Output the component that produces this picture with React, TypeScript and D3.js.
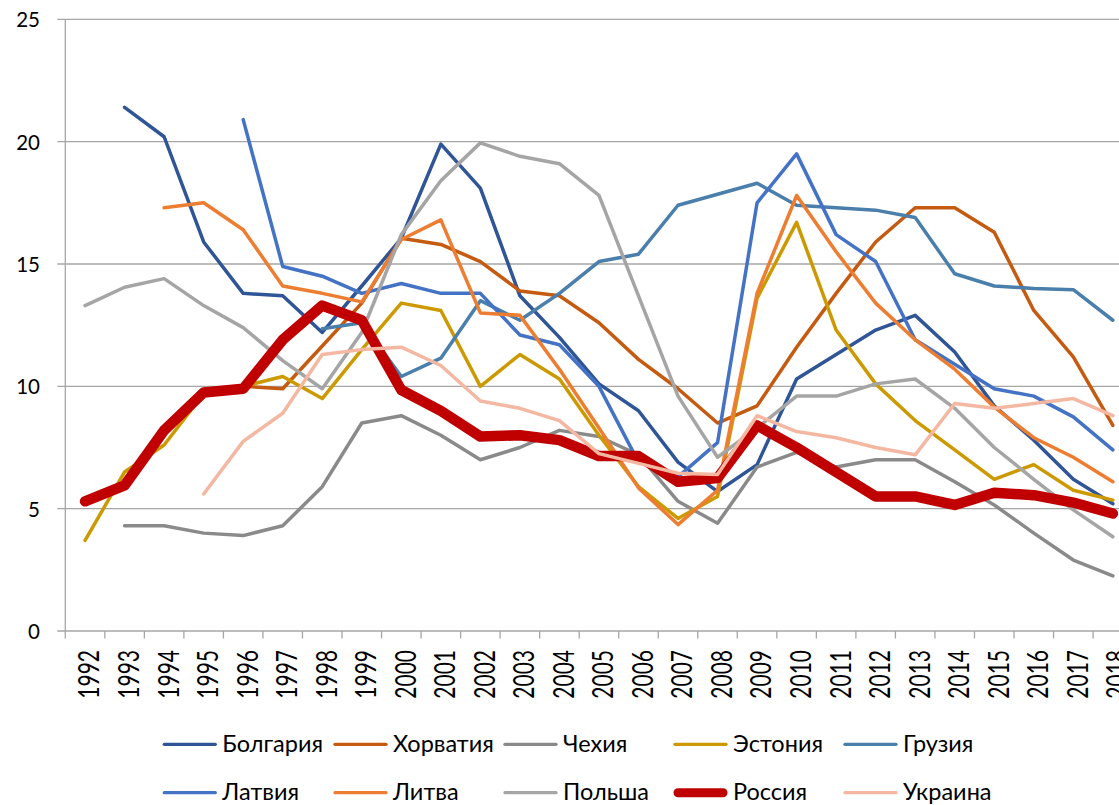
import React, { useEffect } from "react";
import * as d3 from "d3";

const years = d3.range(1992, 2019).map(String);
const yTicks = [0, 5, 10, 15, 20, 25];

const N = null;
const bulgaria = [N, 21.4, 20.2, 15.9, 13.8, 13.7, 12.2, 14.1, 16.05, 19.9, 18.1, 13.7, 12.0, 10.1, 9.0, 6.9, 5.7, 6.8, 10.3, 11.3, 12.3, 12.9, 11.4, 9.2, 7.8, 6.2, 5.2];
const croatia = [N, N, N, N, 10.0, 9.9, 11.65, 13.4, 16.05, 15.8, 15.1, 13.9, 13.7, 12.6, 11.1, 9.9, 8.5, 9.2, 11.6, 13.8, 15.9, 17.3, 17.3, 16.3, 13.1, 11.2, 8.4];
const czechia = [N, 4.3, 4.3, 4.0, 3.9, 4.3, 5.9, 8.5, 8.8, 8.0, 7.0, 7.5, 8.2, 7.95, 7.2, 5.3, 4.4, 6.7, 7.3, 6.7, 7.0, 7.0, 6.1, 5.15, 4.0, 2.9, 2.25];
const estonia = [3.7, 6.5, 7.6, 9.7, 10.0, 10.4, 9.5, 11.5, 13.4, 13.1, 10.0, 11.3, 10.3, 8.0, 5.9, 4.6, 5.5, 13.6, 16.7, 12.3, 10.1, 8.6, 7.4, 6.2, 6.8, 5.75, 5.35];
const georgia = [N, N, N, N, N, N, 12.35, 12.6, 10.4, 11.15, 13.5, 12.7, 13.8, 15.1, 15.4, 17.4, 17.85, 18.3, 17.4, 17.3, 17.2, 16.9, 14.6, 14.1, 14.0, 13.95, 12.7];
const latvia = [N, N, N, N, 20.9, 14.9, 14.5, 13.8, 14.2, 13.8, 13.8, 12.1, 11.7, 10.0, 6.9, 6.3, 7.7, 17.5, 19.5, 16.2, 15.1, 11.9, 10.9, 9.9, 9.6, 8.75, 7.4];
const lithuania = [N, N, 17.3, 17.5, 16.4, 14.1, 13.8, 13.45, 16.0, 16.8, 13.0, 12.9, 10.7, 8.3, 5.85, 4.35, 5.75, 13.8, 17.8, 15.5, 13.4, 11.9, 10.7, 9.15, 7.9, 7.1, 6.1];
const poland = [13.3, 14.05, 14.4, 13.3, 12.4, 11.05, 9.9, 12.2, 16.2, 18.4, 19.95, 19.4, 19.1, 17.8, 13.7, 9.6, 7.1, 8.3, 9.6, 9.6, 10.1, 10.3, 9.1, 7.5, 6.2, 4.95, 3.85];
const russia = [5.3, 5.95, 8.2, 9.75, 9.9, 11.9, 13.3, 12.7, 9.85, 9.0, 7.95, 8.0, 7.8, 7.15, 7.15, 6.1, 6.25, 8.4, 7.5, 6.5, 5.5, 5.5, 5.15, 5.65, 5.55, 5.25, 4.8];
const ukraine = [N, N, N, 5.6, 7.75, 8.9, 11.3, 11.5, 11.6, 10.85, 9.4, 9.1, 8.6, 7.25, 6.85, 6.45, 6.4, 8.8, 8.15, 7.9, 7.5, 7.2, 9.3, 9.1, 9.3, 9.5, 8.8];

const seriesNames = ["Болгария", "Хорватия", "Чехия", "Эстония", "Грузия", "Латвия", "Литва", "Польша", "Россия", "Украина"];
const seriesValues = [bulgaria, croatia, czechia, estonia, georgia, latvia, lithuania, poland, russia, ukraine];
const seriesColors = ["#2F5597", "#C55A11", "#8A8A8A", "#CC9A00", "#4A7EAB", "#4472C4", "#ED7D31", "#A5A5A5", "#C00000", "#F4B8A2"];
const seriesWidths = [3.5, 3.5, 3.5, 3.5, 3.5, 3.5, 3.5, 3.5, 10.5, 3.5];

const W = 1119;
const H = 805;
const FONT = "Lato, 'Open Sans', sans-serif";

export default function App() {
  useEffect(() => {
    document.body.style.margin = "0";
  }, []);

  const left = 65.3;
  const band = 39.53;
  const x = d3.scaleBand<string>().domain(years).range([left, left + band * years.length]).padding(0);
  const y = d3.scaleLinear().domain([0, 25]).range([631, 19.3]);
  const cx = (i: number) => (x(years[i]) as number) + x.bandwidth() / 2;

  const line = d3
    .line<number | null>()
    .defined((d) => d != null)
    .x((_, i) => cx(i))
    .y((d) => y(d as number));

  const gridColor = "#A6A6A6";
  const plotRight = left + band * years.length;

  const legendCols = [163.3, 334, 504, 674, 844];
  const legendRows = [744.3, 792.7];

  return (
    <svg width={W} height={H} style={{ display: "block", background: "#fff" }} fontFamily={FONT}>
      {yTicks.map((t) => (
        <line key={"g" + t} x1={57.3} x2={plotRight} y1={y(t)} y2={y(t)} stroke={gridColor} strokeWidth={1.3} />
      ))}
      <line x1={left} x2={left} y1={y(25)} y2={y(0)} stroke={gridColor} strokeWidth={1.3} />
      {d3.range(years.length + 1).map((k) => (
        <line key={"xt" + k} x1={left + k * band} x2={left + k * band} y1={y(0)} y2={y(0) + 7.5} stroke={gridColor} strokeWidth={1.3} />
      ))}
      {yTicks.map((t) => (
        <text key={"yl" + t} x={40} y={y(t)} textAnchor="end" dominantBaseline="central" fontSize={20.5} fill="#000">
          {t}
        </text>
      ))}
      {years.map((yr, i) => (
        <text
          key={"xl" + yr}
          transform={`translate(${cx(i) + 3},650) scale(1.37,1) rotate(-90)`}
          textAnchor="end"
          dominantBaseline="central"
          fontSize={21}
          fill="#000"
        >
          {yr}
        </text>
      ))}
      {seriesValues.map((vals, si) => (
        <path
          key={"s" + si}
          d={line(vals) || ""}
          fill="none"
          stroke={seriesColors[si]}
          strokeWidth={seriesWidths[si]}
          strokeLinejoin="round"
          strokeLinecap="round"
        />
      ))}
      {seriesNames.map((name, si) => {
        const col = si % 5;
        const row = Math.floor(si / 5);
        const lx = legendCols[col];
        const ly = legendRows[row];
        const thick = seriesWidths[si] > 5;
        return (
          <g key={"lg" + si}>
            <line
              x1={lx + (thick ? 4 : 1)}
              x2={lx + 53 - (thick ? 4 : 1)}
              y1={ly}
              y2={ly}
              stroke={seriesColors[si]}
              strokeWidth={thick ? 9 : 3.3}
              strokeLinecap="round"
            />
            <text x={lx + 59} y={ly + 7.6} fontSize={23.5} fill="#000">
              {name}
            </text>
          </g>
        );
      })}
    </svg>
  );
}
